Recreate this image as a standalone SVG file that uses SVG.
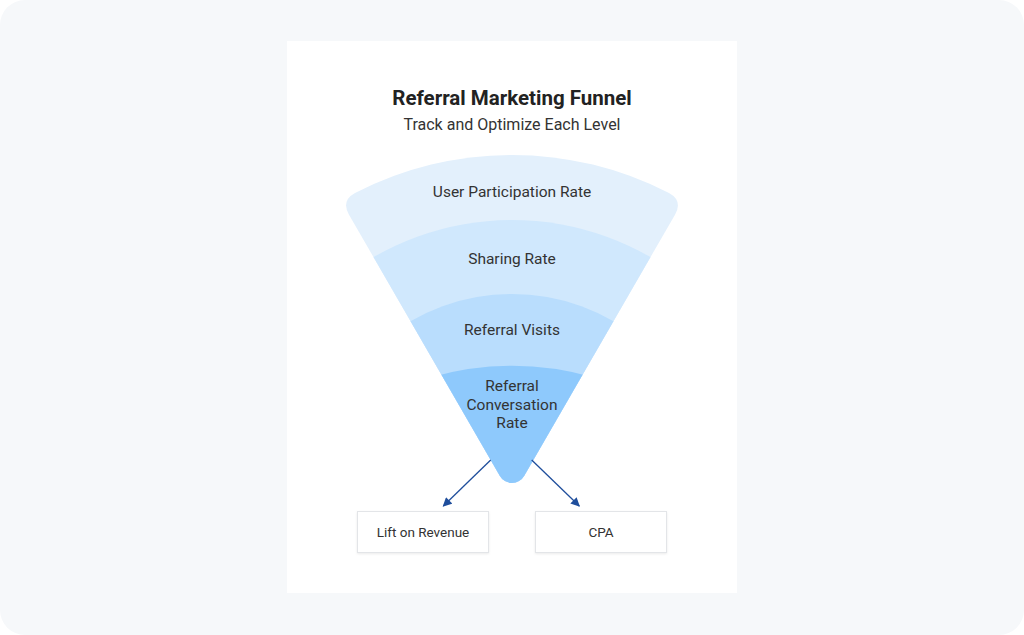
<svg xmlns="http://www.w3.org/2000/svg" width="1024" height="635" viewBox="0 0 1024 635">
  <defs>
    <style>
      .lbl { font-family: Roboto, "Liberation Sans", sans-serif; fill: #333333; text-anchor: middle; }
      .band { font-size: 15.5px; }
      .box { fill: #ffffff; stroke: #e3e5e8; stroke-width: 1; }
      .conn { stroke: #1f4e9c; stroke-width: 1.3; fill: none; marker-end: url(#arrow); }
    </style>
    <marker id="arrow" viewBox="0 0 10 10" refX="9" refY="5" markerWidth="10" markerHeight="9" markerUnits="userSpaceOnUse" orient="auto">
      <path d="M0,0 L10,5 L0,10 Z" fill="#1f4e9c"/>
    </marker>
    <clipPath id="funnelClip">
      <path d="M 355,193.1 A 342 342 0 0 1 669,193.1 Q 683,200.8 675,214.7 L 524.1,476 A 14 14 0 0 1 499.9,476 L 349,214.7 Q 341,200.8 355,193.1 Z"/>
    </clipPath>
    <filter id="shadow" x="-10%" y="-20%" width="120%" height="150%">
      <feDropShadow dx="0" dy="1" stdDeviation="1.2" flood-color="#000000" flood-opacity="0.08"/>
    </filter>
  </defs>

  <rect x="0" y="0" width="1024" height="635" rx="25" ry="25" fill="#f6f8fa"/>
  <rect x="287" y="41" width="450" height="552" fill="#ffffff"/>

  <g id="title">
    <text class="lbl" x="512" y="105" style="font-size:20.5px;font-weight:bold;fill:#222222">Referral Marketing Funnel</text>
    <text class="lbl" x="512" y="130" style="font-size:16px">Track and Optimize Each Level</text>
  </g>

  <g id="funnel" clip-path="url(#funnelClip)">
    <g id="level1">
      <path d="M 300,100 L 724,100 L 724,600 L 300,600 Z" fill="#e3f0fc"/>
    </g>
    <g id="level2">
      <path d="M 334,284.8 A 277 277 0 0 1 690,284.8 L 512,560 Z" fill="#d0e8fd"/>
    </g>
    <g id="level3">
      <path d="M 381.5,341.5 A 203 203 0 0 1 642.5,341.5 L 512,560 Z" fill="#b9ddfd"/>
    </g>
    <g id="level4">
      <path d="M 430,377.4 A 301 301 0 0 1 594,377.4 L 512,560 Z" fill="#8ec9fc"/>
    </g>
  </g>

  <g id="funnel-labels">
    <text class="lbl band" x="512" y="197">User Participation Rate</text>
    <text class="lbl band" x="512" y="263.5">Sharing Rate</text>
    <text class="lbl band" x="512" y="335">Referral Visits</text>
    <text class="lbl band" x="512" y="391">Referral</text>
    <text class="lbl band" x="512" y="409.5">Conversation</text>
    <text class="lbl band" x="512" y="428">Rate</text>
  </g>

  <g id="connectors">
    <line class="conn" x1="490.7" y1="460" x2="443.3" y2="506"/>
    <line class="conn" x1="531.7" y1="460" x2="579.3" y2="506"/>
  </g>

  <g id="lift-on-revenue">
    <rect class="box" x="357.5" y="511.5" width="131" height="41" filter="url(#shadow)"/>
    <text class="lbl" x="423" y="537" style="font-size:13.5px">Lift on Revenue</text>
  </g>
  <g id="cpa">
    <rect class="box" x="535.5" y="511.5" width="131" height="41" filter="url(#shadow)"/>
    <text class="lbl" x="601" y="537" style="font-size:13.5px">CPA</text>
  </g>
</svg>
